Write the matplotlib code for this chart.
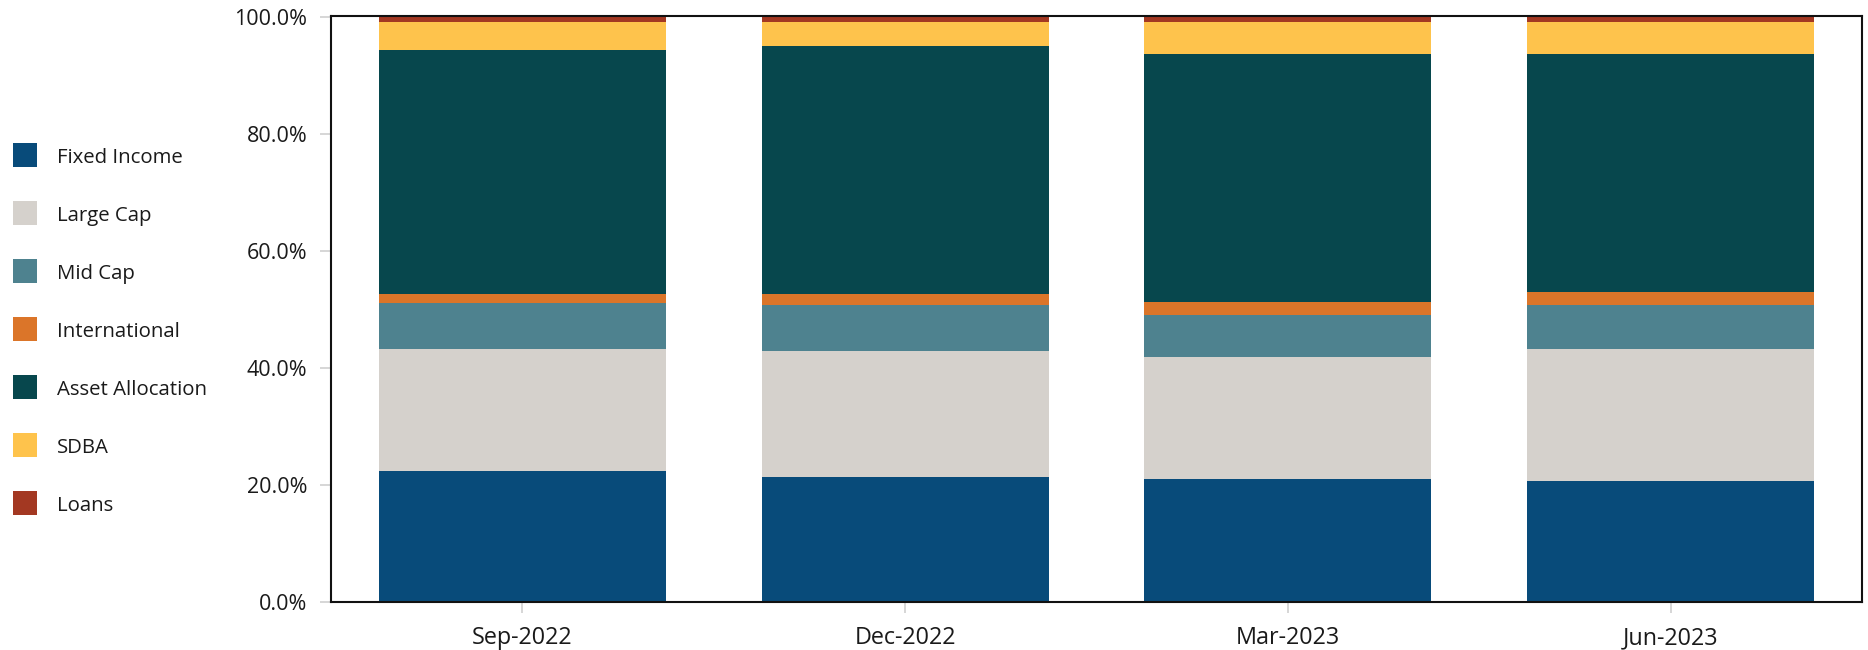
import matplotlib
matplotlib.use("Agg")
import matplotlib.pyplot as plt
from matplotlib.patches import Rectangle
from matplotlib.ticker import FuncFormatter
import numpy as np

# Quarter-end allocation mix (% of plan assets)
quarters = ["Sep-2022", "Dec-2022", "Mar-2023", "Jun-2023"]
series_names = ["Fixed Income", "Large Cap", "Mid Cap", "International",
                "Asset Allocation", "SDBA", "Loans"]
fixed_income = [22.35, 21.3, 21.0, 20.6]
large_cap = [20.85, 21.6, 20.9, 22.6]
mid_cap = [7.9, 7.9, 7.16, 7.6]
international = [1.55, 1.85, 2.24, 2.2]
asset_allocation = [41.75, 42.45, 42.4, 40.7]
sdba = [4.8, 4.1, 5.5, 5.5]
loans = [0.8, 0.8, 0.8, 0.8]
y_ticks = [0, 20, 40, 60, 80, 100]

series_values = [fixed_income, large_cap, mid_cap, international,
                 asset_allocation, sdba, loans]
colors = ["#084B7A", "#D5D1CC", "#4E828F", "#DB7529",
          "#07474D", "#FEC34C", "#A33822"]

plt.rcParams["font.family"] = ["Open Sans", "DejaVu Sans"]

W, H = 1868, 650
fig = plt.figure(figsize=(W / 100, H / 100), dpi=100)
left, right, top, bottom = 331, 1862, 16, 601.5
ax = fig.add_axes([left / W, 1 - bottom / H, (right - left) / W, (bottom - top) / H])

x = np.arange(len(quarters))
base = np.zeros(len(quarters))
for vals, col in zip(series_values, colors):
    vals = np.array(vals)
    ax.bar(x, vals, bottom=base, width=0.75, color=col, linewidth=0, zorder=2)
    base += vals

ax.set_xlim(-0.5, 3.5)
ax.set_ylim(0, 100.22)
ax.set_yticks(y_ticks)
ax.yaxis.set_major_formatter(FuncFormatter(lambda v, p: f"{v:.1f}%"))
ax.set_xticks(x)
ax.set_xticklabels(quarters)

ax.tick_params(axis="both", which="major", length=8, width=1.2,
               color="#d0d0d0", labelcolor="#1a1a1a")
ax.tick_params(axis="y", pad=9, labelsize=15.5)
ax.tick_params(axis="x", pad=10, labelsize=16.8)

for s in ax.spines.values():
    s.set_color("#111111")
    s.set_linewidth(1.5)

# Legend drawn as a column of swatches beside the axes
sq = 24
row0, step = 143, 58
for i, (name, col) in enumerate(zip(series_names, colors)):
    y0 = row0 + i * step
    fig.add_artist(Rectangle((13 / W, 1 - (y0 + sq) / H), sq / W, sq / H,
                             transform=fig.transFigure, facecolor=col,
                             edgecolor="none"))
    fig.text(57 / W, 1 - (y0 + sq / 2 + 3) / H, name, fontsize=14.7,
             color="#1a1a1a", va="center", ha="left")

fig.savefig("out.png", dpi=100)
